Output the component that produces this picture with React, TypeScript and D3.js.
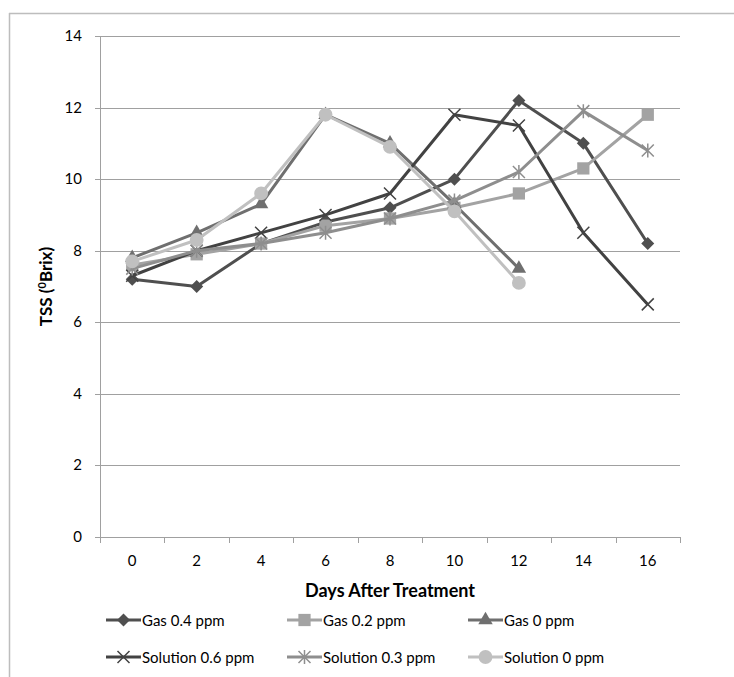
import React from "react";
import * as d3 from "d3";

const days = ["0", "2", "4", "6", "8", "10", "12", "14", "16"];
const yTicks = [0, 2, 4, 6, 8, 10, 12, 14];

const gas04 = [7.2, 7.0, 8.2, 8.8, 9.2, 10.0, 12.2, 11.0, 8.2];
const gas02 = [7.6, 7.9, 8.2, 8.7, 8.9, 9.2, 9.6, 10.3, 11.8];
const gas0 = [7.8, 8.5, 9.3, 11.8, 11.0, 9.3, 7.5];
const sol06 = [7.3, 8.0, 8.5, 9.0, 9.6, 11.8, 11.5, 8.5, 6.5];
const sol03 = [7.5, 8.0, 8.2, 8.5, 8.9, 9.4, 10.2, 11.9, 10.8];
const sol0 = [7.7, 8.3, 9.6, 11.8, 10.9, 9.1, 7.1];

const seriesNames = ["Gas 0.4 ppm", "Gas 0.2 ppm", "Gas 0 ppm", "Solution 0.6 ppm", "Solution 0.3 ppm", "Solution 0 ppm"];
const seriesValues = [gas04, gas02, gas0, sol06, sol03, sol0];
const seriesColors = ["#4f4f4f", "#a3a3a3", "#6f6f6f", "#424242", "#8e8e8e", "#c0c0c0"];
const seriesMarkers = ["diamond", "square", "triangle", "x", "star", "circle"];

const W = 734, H = 677;
const left = 100, right = 680, top = 36, bottom = 537;
const font = "Lato, 'Open Sans', sans-serif";

function Marker({ type, x, y, color }: { type: string; x: number; y: number; color: string }) {
  if (type === "x") {
    const r = 6;
    return <path d={`M${x - r},${y - r}L${x + r},${y + r}M${x - r},${y + r}L${x + r},${y - r}`} stroke={color} strokeWidth={1.5} fill="none" />;
  }
  if (type === "star") {
    const r = 6;
    return <path d={`M${x - r},${y - r}L${x + r},${y + r}M${x - r},${y + r}L${x + r},${y - r}M${x},${y - r - 1}L${x},${y + r + 1}`} stroke={color} strokeWidth={1.5} fill="none" />;
  }
  if (type === "diamond") {
    const r = 6.5;
    return <path d={`M${x},${y - r}L${x + r},${y}L${x},${y + r}L${x - r},${y}Z`} fill={color} />;
  }
  let sym: any = d3.symbolCircle;
  let size = 150;
  if (type === "square") { sym = d3.symbolSquare; size = 150; }
  if (type === "triangle") { sym = d3.symbolTriangle; size = 90; }
  if (type === "circle") { sym = d3.symbolCircle; size = 150; }
  const p = d3.symbol().type(sym).size(size)()!;
  return <path d={p} transform={`translate(${x},${y})`} fill={color} />;
}

export default function App() {
  const x = d3.scaleBand<string>().domain(days).range([left, right]);
  const y = d3.scaleLinear().domain([0, 14]).range([bottom, top]);
  const cx = (d: string) => (x(d) as number) + x.bandwidth() / 2;
  const line = d3.line<number>().x((_, i) => cx(days[i])).y((v) => y(v));
  const tickXs = [...days.map((d) => x(d) as number), right];

  const legendCols = [106, 287, 468];
  const legendRows = [620, 657];

  return (
    <svg width={W} height={H} style={{ position: "absolute", left: 0, top: 0, background: "#fff" }}>
      <rect x={0} y={0} width={W} height={H} fill="#fff" />
      <line x1={9.5} y1={13} x2={9.5} y2={H} stroke="#bdbdbd" strokeWidth={1.5} />
      <line x1={9} y1={13.5} x2={W} y2={13.5} stroke="#bdbdbd" strokeWidth={1.5} />

      {yTicks.map((t) => (
        <g key={t}>
          <line x1={95} x2={right} y1={Math.round(y(t)) + 0.5} y2={Math.round(y(t)) + 0.5} stroke="#a0a0a0" strokeWidth={1} />
          <text x={82} y={y(t) + 5} textAnchor="end" fontFamily={font} fontSize={15} fill="#000">{t}</text>
        </g>
      ))}
      <line x1={left + 0.5} x2={left + 0.5} y1={top} y2={bottom} stroke="#a0a0a0" />
      {tickXs.map((tx, i) => (
        <line key={i} x1={Math.round(tx) + 0.5} x2={Math.round(tx) + 0.5} y1={bottom} y2={bottom + 6} stroke="#a0a0a0" />
      ))}
      {days.map((d) => (
        <text key={d} x={cx(d)} y={566} textAnchor="middle" fontFamily={font} fontSize={15} fill="#000">{d}</text>
      ))}
      <text x={390} y={597} textAnchor="middle" fontFamily={font} fontSize={18} fontWeight="bold" fill="#000">Days After Treatment</text>
      <text transform={`translate(52,${(top + bottom) / 2}) rotate(-90)`} textAnchor="middle" fontFamily={font} fontSize={17} fontWeight="bold" fill="#000">
        TSS (<tspan fontSize={11} dy={-6}>0</tspan><tspan dy={6}>Brix)</tspan>
      </text>

      {seriesValues.map((vals, si) => (
        <g key={si}>
          <path d={line(vals) || ""} fill="none" stroke={seriesColors[si]} strokeWidth={3} strokeLinejoin="round" />
          {vals.map((v, i) => (
            <Marker key={i} type={seriesMarkers[si]} x={cx(days[i])} y={y(v)} color={seriesColors[si]} />
          ))}
        </g>
      ))}

      {seriesNames.map((name, si) => {
        const lx = legendCols[si % 3];
        const ly = legendRows[Math.floor(si / 3)];
        return (
          <g key={name}>
            <line x1={lx} x2={lx + 35} y1={ly} y2={ly} stroke={seriesColors[si]} strokeWidth={3} />
            <Marker type={seriesMarkers[si]} x={lx + 17.5} y={ly} color={seriesColors[si]} />
            <text x={lx + 36} y={ly + 6} fontFamily={font} fontSize={15} fill="#000">{name}</text>
          </g>
        );
      })}
    </svg>
  );
}
